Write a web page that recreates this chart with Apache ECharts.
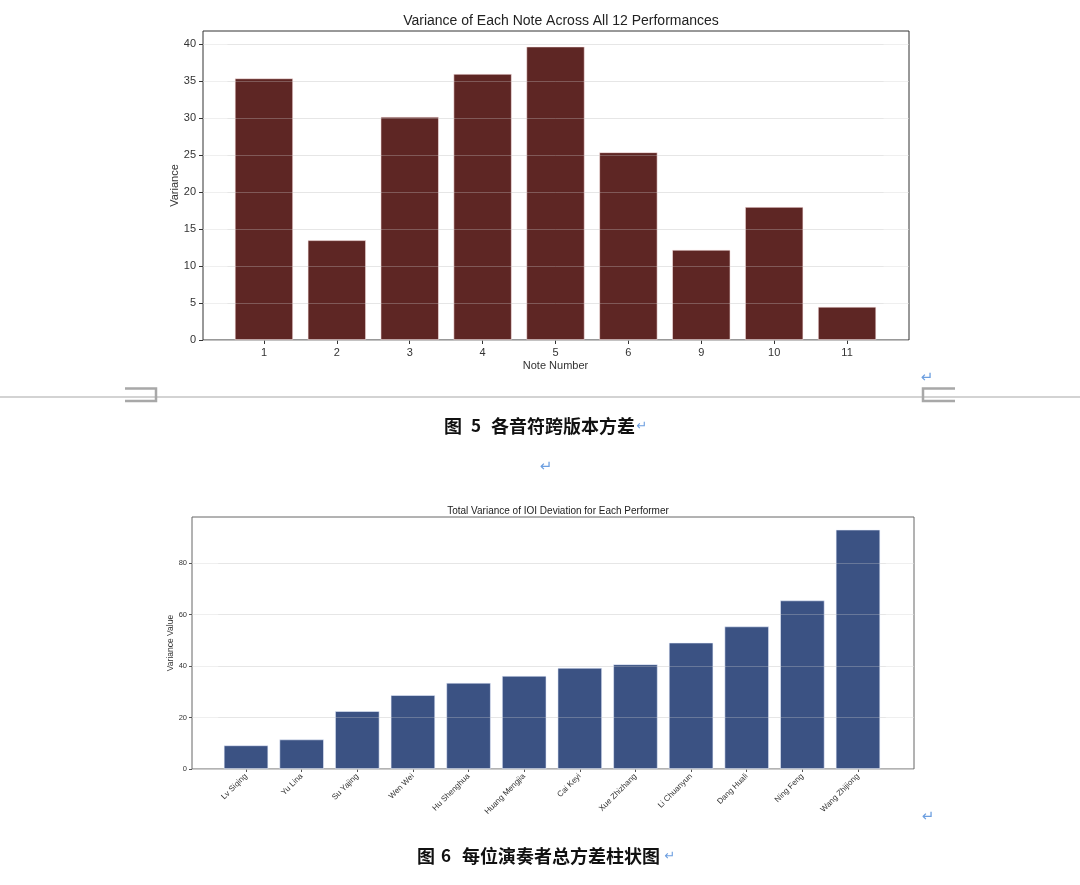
<!DOCTYPE html>
<html>
<head>
<meta charset="utf-8">
<script src="https://cdn.jsdelivr.net/npm/echarts@6/dist/echarts.min.js"></script>
<style>
html,body{margin:0;padding:0;background:#fff;}
#c{width:1080px;height:885px;}
</style>
</head>
<body>
<div id="c"></div>
<script>
// ---- Chart 1 data ----
const noteLabels = ['1', '2', '3', '4', '5', '6', '9', '10', '11'];
const noteVariance = [35.4, 13.5, 30.2, 36.0, 39.7, 25.4, 12.2, 18.0, 4.5];
const noteYTicks = [0, 5, 10, 15, 20, 25, 30, 35, 40];

// ---- Chart 2 data ----
const performers = ['Lv Siqing', 'Yu Lina', 'Su Yajing', 'Wen Wei', 'Hu Shenghua', 'Huang Mengjia',
  'Cai Keyi', 'Xue Zhizhang', 'Li Chuanyun', 'Dang Huali', 'Ning Feng', 'Wang Zhijiong'];
const performerVariance = [9.2, 11.5, 22.5, 28.7, 33.5, 36.2, 39.3, 40.7, 49.1, 55.4, 65.5, 93.0];
const perfYTicks = [0, 20, 40, 60, 80];

const FONT = '"Liberation Sans", Arial, sans-serif';
const CJK = '"Noto Sans CJK SC", sans-serif';
const chart = echarts.init(document.getElementById('c'), null, {renderer: 'canvas'});

const y1Max = 41.8, y2Max = 97.9;
const gridColor = 'rgba(210,210,210,0.3)';
const gridColorOut = 'rgba(225,225,225,0.55)';

const option = {
  animation: false,
  backgroundColor: '#fff',
  title: [
    {text: 'Variance of Each Note Across All 12 Performances', left: 556, top: 9, textAlign: 'center',
     textStyle: {fontFamily: FONT, fontSize: 14, fontWeight: 'normal', color: '#222'}},
    {text: 'Total Variance of IOI Deviation for Each Performer', left: 553, top: 501, textAlign: 'center',
     textStyle: {fontFamily: FONT, fontSize: 10, fontWeight: 'normal', color: '#222'}}
  ],
  grid: [
    {left: 203, top: 31, width: 706, height: 309, show: true, borderColor: '#333', borderWidth: 1, backgroundColor: 'transparent'},
    {left: 227.5, top: 31, width: 656, height: 309},
    {left: 192, top: 517, width: 722, height: 252, show: true, borderColor: '#666', borderWidth: 1, backgroundColor: 'transparent'},
    {left: 218.2, top: 517, width: 667.6, height: 252}
  ],
  xAxis: [
    {gridIndex: 0, type: 'value', min: 0, max: 1, show: false},
    {gridIndex: 1, type: 'category', data: noteLabels,
     axisLine: {show: false},
     axisTick: {show: true, alignWithLabel: true, length: 4, lineStyle: {color: '#333'}},
     axisLabel: {fontFamily: FONT, fontSize: 11, color: '#333', margin: 7},
     name: 'Note Number', nameLocation: 'middle', nameGap: 20, nameMoveOverlap: false,
     nameTextStyle: {fontFamily: FONT, fontSize: 11, color: '#333'}},
    {gridIndex: 2, type: 'value', min: 0, max: 1, show: false},
    {gridIndex: 3, type: 'category', data: performers,
     axisLine: {show: false},
     axisTick: {show: true, alignWithLabel: true, length: 3, lineStyle: {color: '#555'}},
     axisLabel: {fontFamily: FONT, fontSize: 8, color: '#333', rotate: 45, margin: 6, interval: 0}}
  ],
  yAxis: [
    {gridIndex: 0, type: 'value', min: 0, max: y1Max, z: 1,
     axisLine: {show: false},
     axisTick: {show: true, length: 4, lineStyle: {color: '#333'}, customValues: noteYTicks},
     axisLabel: {fontFamily: FONT, fontSize: 11, color: '#333', margin: 7, customValues: noteYTicks},
     splitLine: {show: true, lineStyle: {color: gridColorOut, width: 1}},
     name: 'Variance', nameLocation: 'middle', nameGap: 23, nameRotate: 90, nameMoveOverlap: false,
     nameTextStyle: {fontFamily: FONT, fontSize: 11, color: '#333'}},
    {gridIndex: 1, type: 'value', min: 0, max: y1Max, show: false},
    {gridIndex: 2, type: 'value', min: 0, max: y2Max, z: 1,
     axisLine: {show: false},
     axisTick: {show: true, length: 3, lineStyle: {color: '#555'}, customValues: perfYTicks},
     axisLabel: {fontFamily: FONT, fontSize: 7.5, color: '#333', margin: 5, customValues: perfYTicks},
     splitLine: {show: true, lineStyle: {color: gridColorOut, width: 1}},
     name: 'Variance Value', nameLocation: 'middle', nameGap: 17, nameRotate: 90, nameMoveOverlap: false,
     nameTextStyle: {fontFamily: FONT, fontSize: 8.5, color: '#333'}},
    {gridIndex: 3, type: 'value', min: 0, max: y2Max, show: false}
  ],
  series: [
    {type: 'bar', xAxisIndex: 1, yAxisIndex: 1, data: noteVariance, barWidth: '80%', z: 2,
     itemStyle: {color: '#5e2624', borderColor: 'rgba(255,235,235,0.7)', borderWidth: 0.8},
     markLine: {silent: true, symbol: 'none', label: {show: false}, z: 5,
       lineStyle: {color: gridColor, type: 'solid', width: 1},
       data: noteYTicks.filter(v => v > 0).map(v => ({yAxis: v}))}},
    {type: 'bar', xAxisIndex: 3, yAxisIndex: 3, data: performerVariance, barWidth: '80%', z: 2,
     itemStyle: {color: '#3b5283', borderColor: 'rgba(235,240,255,0.7)', borderWidth: 0.8},
     markLine: {silent: true, symbol: 'none', label: {show: false}, z: 5,
       lineStyle: {color: gridColor, type: 'solid', width: 1},
       data: perfYTicks.filter(v => v > 0).map(v => ({yAxis: v}))}}
  ],
  graphic: [
    // page divider
    {type: 'line', shape: {x1: 0, y1: 397, x2: 1080, y2: 397}, style: {stroke: '#c4c4c4', lineWidth: 1.5}},
    {type: 'polyline', shape: {points: [[125, 388.5], [156, 388.5], [156, 401], [125, 401]]}, style: {stroke: '#a8a8a8', lineWidth: 2.5, fill: null}},
    {type: 'polyline', shape: {points: [[955, 388.5], [923, 388.5], [923, 401], [955, 401]]}, style: {stroke: '#a8a8a8', lineWidth: 2.5, fill: null}},
    // return marks
    {type: 'text', x: 927, y: 378, style: {text: '\u21B5', font: '15px "DejaVu Sans"', fill: '#6d9fe0', align: 'center', verticalAlign: 'middle'}},
    {type: 'text', x: 546, y: 467, style: {text: '\u21B5', font: '15px "DejaVu Sans"', fill: '#6d9fe0', align: 'center', verticalAlign: 'middle'}},
    {type: 'text', x: 928, y: 817, style: {text: '\u21B5', font: '15px "DejaVu Sans"', fill: '#6d9fe0', align: 'center', verticalAlign: 'middle'}},
    {type: 'text', x: 642, y: 427, style: {text: '\u21B5', font: '13px "DejaVu Sans"', fill: '#6d9fe0', align: 'center', verticalAlign: 'middle'}},
    {type: 'text', x: 670, y: 857, style: {text: '\u21B5', font: '13px "DejaVu Sans"', fill: '#6d9fe0', align: 'center', verticalAlign: 'middle'}},
    // captions
    {type: 'text', x: 444, y: 426, style: {text: '图', font: 'bold 18px ' + CJK, fill: '#111', align: 'left', verticalAlign: 'middle'}},
    {type: 'text', x: 476, y: 426, style: {text: '5', font: 'bold 17px ' + CJK, fill: '#111', align: 'center', verticalAlign: 'middle'}},
    {type: 'text', x: 491, y: 426, style: {text: '各音符跨版本方差', font: 'bold 18px ' + CJK, fill: '#111', align: 'left', verticalAlign: 'middle'}},
    {type: 'text', x: 417, y: 856, style: {text: '图', font: 'bold 18px ' + CJK, fill: '#111', align: 'left', verticalAlign: 'middle'}},
    {type: 'text', x: 446, y: 856, style: {text: '6', font: 'bold 17px ' + CJK, fill: '#111', align: 'center', verticalAlign: 'middle'}},
    {type: 'text', x: 462, y: 856, style: {text: '每位演奏者总方差柱状图', font: 'bold 18px ' + CJK, fill: '#111', align: 'left', verticalAlign: 'middle'}}
  ]
};
chart.setOption(option);
</script>
</body>
</html>
